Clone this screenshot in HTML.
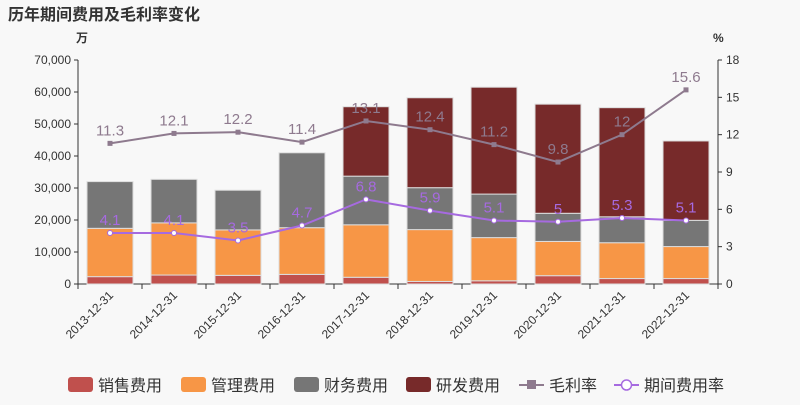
<!DOCTYPE html>
<html><head><meta charset="utf-8"><style>
body{margin:0;background:#f8f8f8;font-family:"Liberation Sans","Noto Sans CJK SC",sans-serif;}
svg text{font-family:"Liberation Sans","Noto Sans CJK SC",sans-serif;}
</style></head><body>
<svg id="c" width="800" height="400">
<text x="8" y="20" font-size="16" font-weight="bold" fill="#333">历年期间费用及毛利率变化</text>
<g id="g"></g>
</svg>
<script>
const categories=["2013-12-31","2014-12-31","2015-12-31","2016-12-31","2017-12-31","2018-12-31","2019-12-31","2020-12-31","2021-12-31","2022-12-31"];
const sales=[2.3,2.8,2.7,3.0,2.1,0.8,1.0,2.6,1.7,1.7];
const admin=[15.1,16.3,14.2,14.6,16.4,16.2,13.5,10.7,11.2,10.0];
const finance=[14.6,13.6,12.4,23.4,15.2,13.1,13.6,8.8,8.1,8.2];
const rnd=[0,0,0,0,21.7,28.1,33.4,34.1,34.1,24.8];
const grossMargin=[11.3,12.1,12.2,11.4,13.1,12.4,11.2,9.8,12,15.6];
const expenseRate=[4.1,4.1,3.5,4.7,6.8,5.9,5.1,5,5.3,5.1];
const leftTicks=[0,10000,20000,30000,40000,50000,60000,70000];
const rightTicks=[0,3,6,9,12,15,18];
const NS="http://www.w3.org/2000/svg";
const g=document.getElementById('g');
const X0=78,X1=718,Y0=284,Y1=60;
const bw=(X1-X0)/categories.length;
const xc=i=>X0+bw*(i+0.5);
const yl=v=>Y0-(v*1000)/70000*(Y0-Y1);
const yr=v=>Y0-v/18*(Y0-Y1);
function el(t,a,txt){const e=document.createElementNS(NS,t);for(const k in a)e.setAttribute(k,a[k]);if(txt!=null)e.textContent=txt;g.appendChild(e);return e;}
// axes
let e=el('line',{x1:X0,y1:Y0,x2:X1,y2:Y0,stroke:'#333'});


e=el('line',{x1:X0,y1:Y0,x2:X0,y2:Y1,stroke:'#333'});


e=el('line',{x1:X1,y1:Y0,x2:X1,y2:Y1,stroke:'#333'});


leftTicks.forEach(t=>{const y=yl(t/1000);el('line',{x1:X0-4,y1:y,x2:X0,y2:y,stroke:'#333'});
 e=el('text',{x:X0-7,y:y+4,'text-anchor':'end','font-size':12,fill:'#333'},t.toLocaleString('en-US'));
 
 });
rightTicks.forEach(t=>{const y=yr(t);el('line',{x1:X1,y1:y,x2:X1+4,y2:y,stroke:'#333'});
 e=el('text',{x:X1+8,y:y+4,'font-size':12,fill:'#333'},t);
 
 });
e=el('text',{x:76,y:42,'font-size':12,'font-weight':'bold',fill:'#333'},'万');


e=el('text',{x:713,y:42,'font-size':12,'font-weight':'bold',fill:'#333'},'%');


for(let i=0;i<=categories.length;i++){const x=X0+bw*i;el('line',{x1:x,y1:Y0,x2:x,y2:Y0+5,stroke:'#333'});}
categories.forEach((c,i)=>{const x=xc(i)+4,y=Y0+12;
 e=el('text',{x:x,y:y,'text-anchor':'end','font-size':12,fill:'#333',transform:`rotate(-45 ${x} ${y})`},c);
 
 });
// bars
const series=[[sales,'#c0504d','sales'],[admin,'#f79646','admin'],[finance,'#767676','finance'],[rnd,'#772a2a','rnd']];
categories.forEach((c,i)=>{let acc=0;series.forEach(([arr,col,nm])=>{const v=arr[i];if(v>0){
 e=el('rect',{x:xc(i)-23,y:yl(acc+v),width:46,height:yl(acc)-yl(acc+v),fill:col,stroke:'#ddd','stroke-width':1});
 
 }acc+=v;});});
// lines
function line(arr,col,nm,sq){
 const pts=arr.map((v,i)=>xc(i)+','+yr(v)).join(' ');
 e=el('polyline',{points:pts,fill:'none',stroke:col,'stroke-width':2});
 
 
 arr.forEach((v,i)=>{
  if(sq){e=el('rect',{x:xc(i)-2.5,y:yr(v)-2.5,width:5,height:5,fill:col});}
  else{e=el('circle',{cx:xc(i),cy:yr(v),r:2.5,fill:'#fff',stroke:col,'stroke-width':1});}
  
  
  e=el('text',{x:xc(i),y:yr(v)-8,'text-anchor':'middle','font-size':15,fill:col},v);
  
  });}
line(grossMargin,'#8e7a8e','gross-margin',true);
line(expenseRate,'#a66ae0','expense-rate',false);
// legend
const leg=[['rect','#c0504d','销售费用',68],['rect','#f79646','管理费用',181],['rect','#767676','财务费用',294],['rect','#772a2a','研发费用',406],['sq','#8e7a8e','毛利率',519],['ci','#a66ae0','期间费用率',614]];
leg.forEach(([t,col,txt,x])=>{
 if(t==='rect'){e=el('rect',{x:x,y:377,width:25,height:15,rx:3,fill:col});}
 else{el('line',{x1:x,y1:385,x2:x+25,y2:385,stroke:col,'stroke-width':2});
  e=t==='sq'?el('rect',{x:x+8,y:380,width:9,height:9,fill:col}):el('circle',{cx:x+12.5,cy:385,r:5,fill:'#fff',stroke:col,'stroke-width':1.5});}
 
 
 e=el('text',{x:x+30,y:391,'font-size':16,fill:'#333'},txt);
 
 });
</script>
</body></html>
